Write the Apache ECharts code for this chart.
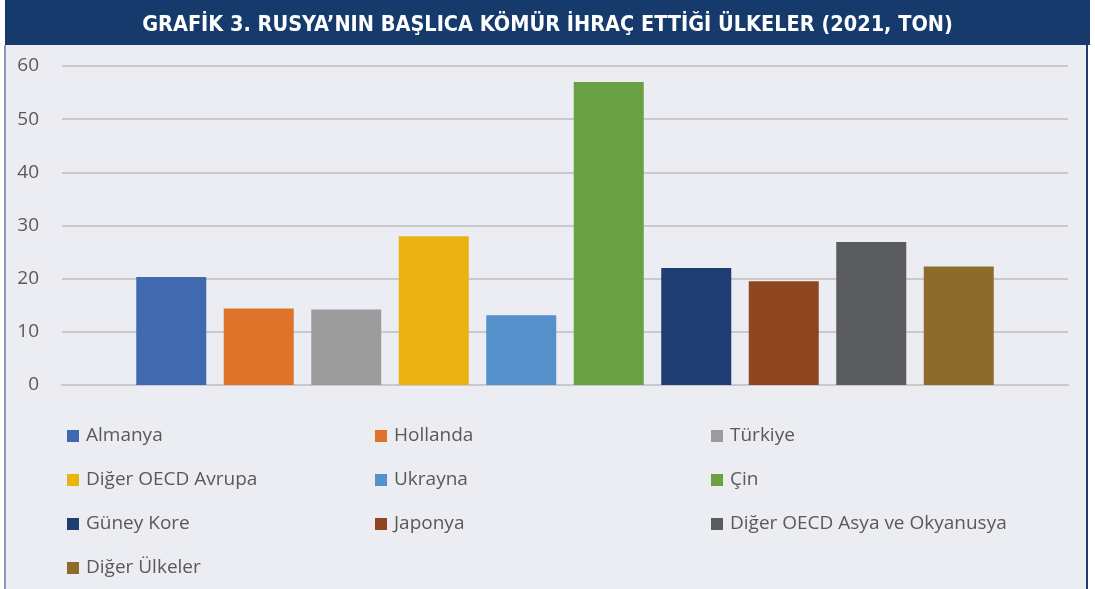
<!DOCTYPE html>
<html>
<head>
<meta charset="utf-8">
<script src="https://cdn.jsdelivr.net/npm/echarts@6/dist/echarts.min.js"></script>
<style>
  html, body { margin: 0; padding: 0; background: #ffffff; }
  #main { width: 1095px; height: 589px; }
</style>
</head>
<body>
<div id="main"></div>
<script>
const titleText = 'GRAFİK 3. RUSYA\u2019NIN BAŞLICA KÖMÜR İHRAÇ ETTİĞİ ÜLKELER (2021, TON)';
const countries = ['Almanya', 'Hollanda', 'Türkiye', 'Diğer OECD Avrupa', 'Ukrayna', 'Çin',
  'Güney Kore', 'Japonya', 'Diğer OECD Asya ve Okyanusya', 'Diğer Ülkeler'];
const values = [20.3, 14.4, 14.2, 28.0, 13.1, 57.0, 22.0, 19.5, 26.9, 22.3];
const colors = ['#4169b0', '#e0732a', '#9c9c9c', '#eab312', '#5590cb', '#69a142',
  '#1f3d72', '#8f4520', '#5b5c5e', '#8d6b2a'];
const yTicks = { min: 0, max: 60, interval: 10 };

const chart = echarts.init(document.getElementById('main'));

// legend laid out as 3 columns
const legendCols = [[0, 3, 6, 9], [1, 4, 7], [2, 5, 8]];
const legendLeft = [62, 370, 706];
const legends = legendCols.map((col, i) => ({
  orient: 'vertical',
  left: legendLeft[i],
  top: 421,
  icon: 'rect',
  itemWidth: 12,
  itemHeight: 12,
  itemGap: 24,
  textStyle: {
    fontFamily: 'Open Sans',
    fontSize: 19,
    lineHeight: 20,
    color: '#595959',
    padding: [0, 0, 0, 2],
  },
  data: col.map(k => countries[k]),
}));

const series = countries.map((name, i) => ({
  name,
  type: 'bar',
  data: [values[i]],
  barWidth: 70,
  barGap: '25%',
  itemStyle: { color: colors[i] },
}));

chart.setOption({
  backgroundColor: '#ffffff',
  animation: false,
  graphic: [
    { type: 'rect', shape: { x: 5, y: 0, width: 1083, height: 589 }, style: { fill: '#ecedf2' }, z: -10 },
    { type: 'rect', shape: { x: 5, y: 0, width: 1085, height: 45 }, style: { fill: '#163a6c' }, z: -5 },
    { type: 'rect', shape: { x: 4, y: 45, width: 2, height: 544 }, style: { fill: '#8a9cbd' }, z: -5 },
    { type: 'rect', shape: { x: 1086, y: 45, width: 2, height: 544 }, style: { fill: '#1f3d72' }, z: -5 },
  ],
  title: {
    text: titleText,
    left: 'center',
    top: 9,
    textStyle: {
      color: '#ffffff',
      fontFamily: '"DejaVu Sans Condensed", Roboto, sans-serif',
      fontWeight: 'bold',
      fontSize: 21.5,
    },
  },
  legend: legends,
  grid: { left: 62, right: 27, top: 66, bottom: 204 },
  xAxis: {
    type: 'category',
    data: [''],
    axisLine: { show: true, lineStyle: { color: '#c9c9cd', width: 2 } },
    axisTick: { show: false },
    axisLabel: { show: false },
  },
  yAxis: {
    type: 'value',
    min: yTicks.min,
    max: yTicks.max,
    interval: yTicks.interval,
    axisLine: { show: false },
    axisTick: { show: false },
    splitLine: { lineStyle: { color: '#c9c9cd', width: 2 } },
    axisLabel: {
      margin: 23,
      fontFamily: 'Open Sans',
      fontSize: 19,
      color: '#595959',
    },
  },
  series,
});
</script>
</body>
</html>
